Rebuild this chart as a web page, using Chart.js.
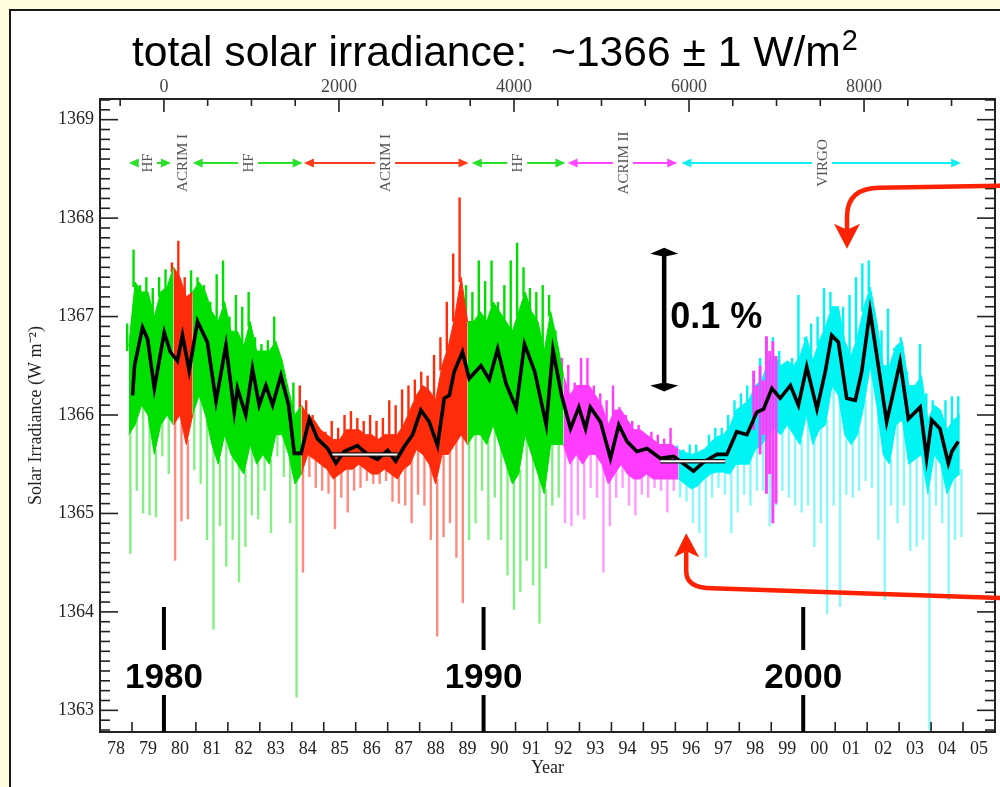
<!DOCTYPE html>
<html>
<head>
<meta charset="utf-8">
<script src="https://cdn.jsdelivr.net/npm/chart.js@4.4.1/dist/chart.umd.min.js"></script>
<style>
  html, body { margin: 0; padding: 0; background: #fffcde; }
  canvas { display: block; }
</style>
</head>
<body>
<canvas id="tsiChart" width="1000" height="787"></canvas>
<script>
// Daily TSI, binned every 0.2 yr (1978.9 ... 2004.9)
const binStart = 1978.9;
const binStep = 0.2;

// outer spikes (extremes of the daily values)
const spikeHigh = [
  1366.93,
  1367.68, 1367.32, 1367.40, 1367.29, 1367.40,
  1367.48, 1367.55, 1367.77, 1367.40, 1367.47,
  1367.40, 1367.32, 1367.15, 1367.43, 1367.57,
  1367.00, 1367.22, 1367.10, 1367.25, 1366.79,
  1366.72, 1366.76, 1367.00, 1366.58, 1366.30,
  1366.33, 1366.30, 1366.15, 1366.00, 1365.87,
  1365.83, 1365.94, 1365.87, 1366.00, 1366.04,
  1365.97, 1365.94, 1366.00, 1365.94, 1365.97,
  1366.15, 1366.10, 1366.26, 1366.30, 1366.36,
  1366.44, 1366.40, 1366.61, 1366.79, 1367.15,
  1367.64, 1368.21, 1367.32, 1367.25, 1367.57,
  1367.36, 1367.57, 1367.15, 1367.32, 1367.57,
  1367.75, 1367.50, 1367.29, 1367.25, 1367.32,
  1367.22, 1366.86, 1366.58, 1366.51, 1366.33,
  1366.58, 1366.58, 1366.30, 1366.22, 1366.15,
  1366.30, 1366.08, 1366.00, 1365.94, 1365.90,
  1365.80, 1365.83, 1365.80, 1365.76, 1365.87,
  1365.69, 1365.65, 1365.70, 1365.70, 1365.65,
  1365.80, 1365.87, 1365.87, 1366.00, 1366.15,
  1366.22, 1366.30, 1366.44, 1366.58, 1366.79,
  1366.79, 1366.65, 1366.44, 1366.58, 1367.22,
  1366.79, 1366.93, 1367.00, 1367.29, 1367.25,
  1366.93, 1367.10, 1367.22, 1367.40, 1367.54,
  1367.57, 1366.93, 1366.86, 1367.08, 1366.68,
  1366.79, 1366.44, 1366.30, 1366.72, 1366.22,
  1366.15, 1366.04, 1366.15, 1366.19, 1366.19
];
const spikeLow = [
  1364.59,
  1365.23, 1365.00, 1364.98, 1364.96, 1365.58,
  1365.40, 1364.52, 1364.92, 1364.94, 1365.44,
  1365.30, 1364.73, 1363.82, 1364.87, 1364.46,
  1364.73, 1364.30, 1364.66, 1364.98, 1364.94,
  1365.23, 1364.80, 1365.58, 1365.37, 1364.90,
  1363.13, 1364.40, 1365.37, 1365.26, 1365.23,
  1365.20, 1364.84, 1365.16, 1365.01, 1365.23,
  1365.26, 1365.33, 1365.30, 1365.30, 1365.33,
  1365.12, 1365.10, 1365.08, 1364.90, 1365.19,
  1365.08, 1364.73, 1363.75, 1364.76, 1364.90,
  1364.55, 1364.09, 1364.73, 1364.90, 1365.23,
  1364.73, 1365.16, 1364.73, 1364.37, 1364.02,
  1364.20, 1364.52, 1364.27, 1363.88, 1364.44,
  1365.08, 1365.16, 1364.90, 1364.87, 1364.98,
  1364.94, 1365.26, 1365.16, 1364.40, 1364.87,
  1365.16, 1365.26, 1365.08, 1364.98, 1365.19,
  1365.16, 1365.26, 1365.23, 1365.01, 1365.23,
  1365.16, 1365.12, 1364.90, 1364.80, 1364.55,
  1365.16, 1365.26, 1365.19, 1364.80, 1365.01,
  1365.19, 1365.08, 1365.23, 1365.23, 1364.87,
  1365.08, 1365.23, 1365.16, 1365.08, 1365.01,
  1365.08, 1364.66, 1364.90, 1363.98, 1365.08,
  1364.05, 1365.19, 1365.16, 1365.23, 1365.33,
  1365.26, 1364.73, 1364.12, 1365.08, 1364.90,
  1365.08, 1364.62, 1364.66, 1364.73, 1362.80,
  1365.08, 1364.90, 1364.12, 1364.73, 1364.76
];
// dense core of the daily values
const coreHigh = [
  1366.70,
  1367.35, 1367.25, 1367.25, 1367.00, 1367.25,
  1367.30, 1367.50, 1367.40, 1367.20, 1367.25,
  1367.35, 1367.25, 1367.05, 1366.95, 1367.15,
  1366.85, 1366.85, 1366.70, 1366.95, 1366.65,
  1366.65, 1366.65, 1366.75, 1366.55, 1366.25,
  1366.00, 1366.10, 1366.00, 1365.95, 1365.85,
  1365.80, 1365.75, 1365.75, 1365.85, 1365.85,
  1365.85, 1365.80, 1365.80, 1365.75, 1365.80,
  1365.80, 1365.80, 1365.90, 1366.05, 1366.20,
  1366.30, 1366.25, 1366.15, 1366.50, 1366.70,
  1367.00, 1367.40, 1366.95, 1366.95, 1367.05,
  1366.95, 1367.15, 1367.05, 1366.95, 1366.85,
  1367.05, 1367.25, 1367.05, 1366.95, 1366.65,
  1367.05, 1366.75, 1366.40, 1366.20, 1366.30,
  1366.30, 1366.30, 1366.20, 1366.10, 1365.90,
  1366.05, 1366.05, 1365.95, 1365.85, 1365.85,
  1365.80, 1365.75, 1365.70, 1365.70, 1365.70,
  1365.65, 1365.62, 1365.60, 1365.62, 1365.65,
  1365.72, 1365.78, 1365.80, 1365.88, 1366.05,
  1366.10, 1366.15, 1366.30, 1366.35, 1366.55,
  1366.60, 1366.50, 1366.55, 1366.50, 1366.60,
  1366.80, 1366.55, 1366.75, 1366.90, 1367.10,
  1367.10, 1366.75, 1366.60, 1366.80, 1367.10,
  1367.30, 1366.95, 1366.50, 1366.50, 1366.70,
  1366.75, 1366.30, 1366.30, 1366.40, 1365.95,
  1366.10, 1366.05, 1365.85, 1365.95, 1366.00
];
const coreLow = [
  1365.80,
  1365.90, 1366.10, 1366.00, 1365.60, 1365.90,
  1366.00, 1365.90, 1366.00, 1365.70, 1366.00,
  1366.20, 1366.00, 1365.70, 1365.50, 1365.80,
  1365.60, 1365.50, 1365.40, 1365.70, 1365.50,
  1365.60, 1365.50, 1365.80, 1365.80, 1365.60,
  1365.30, 1365.40, 1365.60, 1365.55, 1365.50,
  1365.45, 1365.35, 1365.40, 1365.45, 1365.45,
  1365.50, 1365.45, 1365.40, 1365.40, 1365.45,
  1365.40, 1365.35, 1365.45, 1365.50, 1365.65,
  1365.60, 1365.50, 1365.30, 1365.60, 1365.60,
  1365.70, 1365.80, 1365.70, 1365.80, 1365.80,
  1365.70, 1365.90, 1365.70, 1365.50, 1365.30,
  1365.40, 1365.80, 1365.60, 1365.40, 1365.20,
  1365.70, 1365.70, 1365.70, 1365.50, 1365.60,
  1365.50, 1365.60, 1365.60, 1365.50, 1365.30,
  1365.40, 1365.50, 1365.40, 1365.35, 1365.35,
  1365.40, 1365.35, 1365.35, 1365.35, 1365.35,
  1365.35, 1365.30, 1365.25, 1365.28, 1365.35,
  1365.40, 1365.42, 1365.42, 1365.40, 1365.50,
  1365.50, 1365.50, 1365.65, 1365.70, 1365.80,
  1365.85, 1365.80, 1365.90, 1365.80, 1365.70,
  1366.00, 1365.70, 1365.85, 1365.90, 1366.30,
  1366.20, 1365.80, 1365.70, 1365.80, 1366.10,
  1366.50, 1366.10, 1365.60, 1365.50, 1365.90,
  1365.95, 1365.50, 1365.55, 1365.60, 1365.20,
  1365.60, 1365.50, 1365.20, 1365.35, 1365.40
];

// which instrument supplies each stretch of the composite
const sourceNames = ['HF', 'ACRIM I', 'HF', 'ACRIM I', 'HF', 'ACRIM II', 'VIRGO'];
const sourceFrom  = [1978.8, 1980.2, 1980.8, 1984.2, 1989.4, 1992.4, 1996.0];
const sourceTo    = [1980.2, 1980.8, 1984.2, 1989.4, 1992.4, 1996.0, 2005.0];

// ACRIM II values showing through the VIRGO years
const overlapYears = [1998.5, 1998.7, 1998.9, 1999.1];
const overlapHigh  = [1366.45, 1366.50, 1366.80, 1366.75];
const overlapLow   = [1365.85, 1365.60, 1365.20, 1364.90];

// running mean (black curve)
const meanYears = [
  1979.02, 1979.08, 1979.33, 1979.49, 1979.70, 1980.01, 1980.20, 1980.42, 1980.58, 1980.79,
  1981.05, 1981.36, 1981.63, 1981.94, 1982.20, 1982.30, 1982.56, 1982.77, 1982.98, 1983.19,
  1983.40, 1983.66, 1983.90, 1984.08, 1984.29, 1984.55, 1984.80, 1985.12, 1985.38, 1985.64,
  1986.05, 1986.37, 1986.68, 1987.00, 1987.25, 1987.52, 1987.78, 1988.04, 1988.30, 1988.56,
  1988.77, 1988.93, 1989.08, 1989.34, 1989.55, 1989.92, 1990.18, 1990.44, 1990.70, 1991.02,
  1991.28, 1991.60, 1991.96, 1992.17, 1992.44, 1992.72, 1992.98, 1993.19, 1993.34, 1993.66,
  1993.97, 1994.23, 1994.49, 1994.80, 1995.11, 1995.53, 1995.95, 1996.57, 1996.88, 1997.30,
  1997.61, 1997.92, 1998.24, 1998.55, 1998.76, 1999.02, 1999.28, 1999.60, 1999.85, 2000.11,
  2000.43, 2000.69, 2000.89, 2001.10, 2001.36, 2001.63, 2001.83, 2002.09, 2002.35, 2002.61,
  2002.82, 2003.03, 2003.29, 2003.66, 2003.86, 2004.02, 2004.28, 2004.54, 2004.65, 2004.85
];
const meanValues = [
  1366.20, 1366.50, 1366.89, 1366.77, 1366.27, 1366.84, 1366.64, 1366.55, 1366.81, 1366.45,
  1366.95, 1366.74, 1366.14, 1366.71, 1366.03, 1366.27, 1366.00, 1366.47, 1366.10, 1366.30,
  1366.10, 1366.40, 1366.10, 1365.61, 1365.61, 1365.96, 1365.76, 1365.66, 1365.51, 1365.63,
  1365.69, 1365.60, 1365.55, 1365.64, 1365.53, 1365.68, 1365.80, 1366.05, 1365.93, 1365.69,
  1366.17, 1366.20, 1366.44, 1366.64, 1366.37, 1366.50, 1366.36, 1366.67, 1366.32, 1366.07,
  1366.72, 1366.44, 1365.90, 1366.66, 1366.20, 1365.86, 1366.08, 1365.86, 1366.08, 1365.93,
  1365.56, 1365.90, 1365.73, 1365.63, 1365.66, 1365.56, 1365.58, 1365.43, 1365.52, 1365.60,
  1365.60, 1365.83, 1365.80, 1366.03, 1366.06, 1366.27, 1366.17, 1366.30, 1366.10, 1366.49,
  1366.06, 1366.44, 1366.81, 1366.74, 1366.17, 1366.15, 1366.44, 1367.06, 1366.50, 1365.93,
  1366.23, 1366.54, 1365.96, 1366.08, 1365.56, 1365.95, 1365.86, 1365.51, 1365.63, 1365.73
];

// solar-minimum reference levels (white bars)
const minimaFrom  = [1985.27, 1995.53];
const minimaTo    = [1987.30, 1997.56];
const minimaLevel = [1365.60, 1365.53];

// instrument timeline along the top
const timelineNames   = ['HF', 'HF', 'ACRIM I', 'HF', 'ACRIM II', 'VIRGO'];
const timelineFrom    = [1978.90, 1980.90, 1984.38, 1989.63, 1992.63, 1996.19];
const timelineTo      = [1980.22, 1984.34, 1989.53, 1992.56, 1996.06, 2004.94];
const timelineLabelAt = [1979.47, 1982.63, 1986.92, 1991.05, 1994.36, 2000.59];
const timelineLevel = 1368.56;
const loneLabel = 'ACRIM I';
const loneLabelYear = 1980.57;

// axes
const yearTickLabels = ['78', '79', '80', '81', '82', '83', '84', '85', '86', '87', '88', '89', '90', '91',
  '92', '93', '94', '95', '96', '97', '98', '99', '00', '01', '02', '03', '04', '05'];
const yTicks = [1363, 1364, 1365, 1366, 1367, 1368, 1369];
const dayTicks = [0, 2000, 4000, 6000, 8000];
const decadeYears = [1980, 1990, 2000];

// annotations
const scaleBarYear = 1995.65;
const scaleBarHigh = 1367.70;
const scaleBarLow = 1366.24;
const maxArrowYear = 2001.37;
const maxArrowValue = 1367.69;
const minArrowYear = 1996.34;
const minArrowValue = 1364.80;

const serif = "'Liberation Serif', 'Times New Roman', serif";
const sans = "'Liberation Sans', Arial, sans-serif";

const colours = {
  'HF':       { core: '#00e000', spike: '#86ee86', arrow: '#2ae02a' },
  'ACRIM I':  { core: '#ff2c0c', spike: '#ff8a7e', arrow: '#ff3c1e' },
  'ACRIM II': { core: '#ff3cff', spike: '#ff9aff', arrow: '#ff48ff' },
  'VIRGO':    { core: '#00f4f4', spike: '#88f8f8', arrow: '#12eeee' }
};

const round2 = v => Math.round(v * 100) / 100;
const binYears = spikeHigh.map((_, i) => round2(binStart + binStep * i));

function sourceIndex(year) {
  for (let s = 0; s < sourceNames.length; s++) {
    if (year >= sourceFrom[s] && year < sourceTo[s]) return s;
  }
  return -1;
}

const datasets = [];

// spikes: upward (saturated) just left of each bin centre, downward (pale) just right
sourceNames.forEach((name, s) => {
  const idx = binYears.map((yr, i) => i).filter(i => sourceIndex(binYears[i]) === s);
  datasets.push({
    type: 'bar',
    data: idx.map(i => ({ x: round2(binYears[i] - 0.05), y: [coreHigh[i] - 0.05, spikeHigh[i]] })),
    backgroundColor: colours[name].core, grouped: false,
    barPercentage: 0.75, categoryPercentage: 1, order: 20
  });
  datasets.push({
    type: 'bar',
    data: idx.map(i => ({ x: round2(binYears[i] + 0.05), y: [spikeLow[i], coreLow[i] + 0.05] })),
    backgroundColor: colours[name].spike, grouped: false,
    barPercentage: 0.75, categoryPercentage: 1, order: 20
  });
});

// dense core as a filled band per stretch, joined to the next stretch
sourceNames.forEach((name, s) => {
  const idx = binYears.map((yr, i) => i).filter(i => sourceIndex(binYears[i]) === s);
  const last = idx[idx.length - 1];
  if (last + 1 < binYears.length) idx.push(last + 1);
  datasets.push({
    type: 'line', data: idx.map(i => ({ x: binYears[i], y: coreHigh[i] })),
    borderColor: colours[name].core, borderWidth: 1, pointRadius: 0, tension: 0, fill: false, order: 10
  });
  datasets.push({
    type: 'line', data: idx.map(i => ({ x: binYears[i], y: coreLow[i] })),
    borderColor: colours[name].core, borderWidth: 1, pointRadius: 0, tension: 0,
    fill: '-1', backgroundColor: colours[name].core, order: 10
  });
});

// ACRIM II showing through
const overlapPts = [];
overlapYears.forEach((yr, i) => {
  overlapPts.push({ x: round2(yr - 0.05), y: [overlapLow[i], overlapHigh[i]] });
  overlapPts.push({ x: round2(yr + 0.05), y: [overlapLow[i] + 0.2, overlapHigh[i] - 0.15] });
});
datasets.push({
  type: 'bar', data: overlapPts, backgroundColor: colours['ACRIM II'].core, grouped: false,
  barPercentage: 0.9, categoryPercentage: 1, order: 9
});

datasets.push({
  type: 'line',
  data: meanYears.map((yr, i) => ({ x: yr, y: meanValues[i] })),
  borderColor: '#000', borderWidth: 3.6, pointRadius: 0, tension: 0, fill: false, order: 2
});
minimaLevel.forEach((lvl, i) => {
  const pts = [{ x: minimaFrom[i], y: lvl }, { x: minimaTo[i], y: lvl }];
  datasets.push({ type: 'line', data: pts, borderColor: '#111', borderWidth: 4.5, pointRadius: 0, order: 1 });
  datasets.push({ type: 'line', data: pts, borderColor: '#fff', borderWidth: 2, pointRadius: 0, order: 0 });
});

function line(ctx, x0, y0, x1, y1) {
  ctx.beginPath(); ctx.moveTo(x0, y0); ctx.lineTo(x1, y1); ctx.stroke();
}

const decorations = {
  id: 'decorations',
  beforeDraw(chart) {
    const ctx = chart.ctx;
    ctx.save();
    ctx.fillStyle = '#fffcde';
    ctx.fillRect(0, 0, chart.width, chart.height);
    ctx.fillStyle = '#fff';
    ctx.fillRect(10, 10, chart.width, chart.height);
    ctx.strokeStyle = '#1a1a1a';
    ctx.lineWidth = 2;
    ctx.beginPath();
    ctx.moveTo(10, chart.height); ctx.lineTo(10, 10); ctx.lineTo(chart.width, 10);
    ctx.stroke();
    ctx.restore();
  },
  afterDraw(chart) {
    const ctx = chart.ctx;
    const { left, right, top, bottom } = chart.chartArea;
    const xs = chart.scales.x, ys = chart.scales.y, ds = chart.scales.days;
    ctx.save();

    // frame and inward ticks
    ctx.strokeStyle = '#222';
    ctx.lineWidth = 1.6;
    for (let k = Math.ceil(ys.min * 10); k <= Math.floor(ys.max * 10); k++) {
      const py = ys.getPixelForValue(k / 10);
      const len = k % 10 === 0 ? 18 : 10;
      line(ctx, left, py, left + len, py);
      line(ctx, right, py, right - len, py);
    }
    for (let yr = Math.ceil(xs.min); yr <= xs.max; yr++) {
      const px = xs.getPixelForValue(yr);
      line(ctx, px, bottom, px, bottom - 10);
    }
    for (let d = -500; d <= ds.max; d += 500) {
      const px = ds.getPixelForValue(d);
      line(ctx, px, top, px, top + (d % 2000 === 0 ? 13 : 7));
    }
    ctx.lineWidth = 2;
    ctx.strokeRect(left, top, right - left, bottom - top);

    // instrument timeline
    const ty = ys.getPixelForValue(timelineLevel);
    const vlabel = (text, px) => {
      ctx.save();
      ctx.translate(px, ty);
      ctx.rotate(-Math.PI / 2);
      ctx.font = '15px ' + serif;
      ctx.fillStyle = '#555';
      ctx.textAlign = 'center';
      ctx.textBaseline = 'middle';
      ctx.fillText(text, 0, 1);
      ctx.restore();
    };
    const head = (tipX, dir) => {
      ctx.beginPath();
      ctx.moveTo(tipX, ty);
      ctx.lineTo(tipX + dir * 10, ty - 4.5);
      ctx.lineTo(tipX + dir * 10, ty + 4.5);
      ctx.closePath();
      ctx.fill();
    };
    timelineNames.forEach((name, i) => {
      const x0 = xs.getPixelForValue(timelineFrom[i]);
      const x1 = xs.getPixelForValue(timelineTo[i]);
      const xl = xs.getPixelForValue(timelineLabelAt[i]);
      ctx.strokeStyle = colours[name].arrow;
      ctx.fillStyle = colours[name].arrow;
      ctx.lineWidth = 2;
      if (xl - 10 > x0 + 8) line(ctx, x0 + 8, ty, xl - 10, ty);
      if (x1 - 8 > xl + 10) line(ctx, xl + 10, ty, x1 - 8, ty);
      head(x0, 1);
      head(x1, -1);
      vlabel(name, xl);
    });
    vlabel(loneLabel, xs.getPixelForValue(loneLabelYear));

    // decade markers
    ctx.fillStyle = '#000';
    ctx.font = 'bold 35px ' + sans;
    ctx.textAlign = 'center';
    ctx.textBaseline = 'alphabetic';
    decadeYears.forEach(yr => {
      const px = xs.getPixelForValue(yr);
      ctx.fillRect(px - 2, bottom - 125, 4, 43);
      ctx.fillRect(px - 2, bottom - 37, 4, 37);
      ctx.fillText(String(yr), px, bottom - 44);
    });

    // 0.1 % scale bar
    const bx = xs.getPixelForValue(scaleBarYear);
    const bt = ys.getPixelForValue(scaleBarHigh);
    const bb = ys.getPixelForValue(scaleBarLow);
    ctx.strokeStyle = '#000';
    ctx.lineWidth = 4.5;
    line(ctx, bx, bt + 5, bx, bb - 5);
    ctx.beginPath();
    ctx.moveTo(bx, bt); ctx.lineTo(bx + 14, bt + 6); ctx.lineTo(bx, bt + 9); ctx.lineTo(bx - 14, bt + 6);
    ctx.closePath(); ctx.fill();
    ctx.beginPath();
    ctx.moveTo(bx, bb); ctx.lineTo(bx + 14, bb - 6); ctx.lineTo(bx, bb - 9); ctx.lineTo(bx - 14, bb - 6);
    ctx.closePath(); ctx.fill();
    ctx.font = 'bold 36px ' + sans;
    ctx.textAlign = 'left';
    ctx.fillText('0.1 %', bx + 6, bt + 80);

    // title
    ctx.font = '42.6px ' + sans;
    const title = 'total solar irradiance:  ~1366 \u00b1 1 W/m';
    ctx.fillText(title, 132, 66);
    const tw = ctx.measureText(title).width;
    ctx.font = '29px ' + sans;
    ctx.fillText('2', 132 + tw + 1, 50);

    // red pointers to maximum and minimum
    ctx.strokeStyle = '#ff2200';
    ctx.fillStyle = '#ff2200';
    ctx.lineWidth = 4.5;
    ctx.lineCap = 'round';
    const ux = xs.getPixelForValue(maxArrowYear), uy = ys.getPixelForValue(maxArrowValue);
    ctx.beginPath();
    ctx.moveTo(chart.width + 5, uy - 63);
    ctx.lineTo(ux + 33, uy - 61);
    ctx.quadraticCurveTo(ux, uy - 61, ux, uy - 32);
    ctx.lineTo(ux, uy - 20);
    ctx.stroke();
    ctx.beginPath();
    ctx.moveTo(ux, uy); ctx.lineTo(ux - 13, uy - 25); ctx.lineTo(ux, uy - 19); ctx.lineTo(ux + 13, uy - 25);
    ctx.closePath(); ctx.fill();

    const lx = xs.getPixelForValue(minArrowYear), ly = ys.getPixelForValue(minArrowValue);
    ctx.beginPath();
    ctx.moveTo(lx, ly + 20);
    ctx.lineTo(lx, ly + 38);
    ctx.quadraticCurveTo(lx, ly + 55, lx + 26, ly + 55);
    ctx.lineTo(chart.width + 5, ly + 65);
    ctx.stroke();
    ctx.beginPath();
    ctx.moveTo(lx, ly); ctx.lineTo(lx - 12, ly + 24); ctx.lineTo(lx, ly + 18); ctx.lineTo(lx + 13, ly + 24);
    ctx.closePath(); ctx.fill();

    ctx.restore();
  }
};

const tickFont = { family: serif, size: 18 };

new Chart(document.getElementById('tsiChart'), {
  type: 'bar',
  data: { datasets },
  options: {
    responsive: false,
    animation: false,
    devicePixelRatio: 1,
    layout: { padding: { left: 0, right: 5, top: 0, bottom: 0 } },
    plugins: { legend: { display: false }, tooltip: { enabled: false }, title: { display: false } },
    scales: {
      x: {
        type: 'linear', position: 'bottom', min: 1978, max: 2006, offset: false,
        grid: { display: false, drawTicks: false }, border: { display: false },
        afterBuildTicks: s => { s.ticks = yearTickLabels.map((_, i) => ({ value: 1978.5 + i })); },
        ticks: {
          autoSkip: false, maxRotation: 0, padding: 6, color: '#222', font: tickFont,
          callback: (v, i) => yearTickLabels[i]
        },
        title: { display: true, text: 'Year', color: '#222', font: tickFont, padding: { top: 0, bottom: 8 } },
        afterFit: s => { s.height = 55; }
      },
      days: {
        type: 'linear', position: 'top', min: -2 * 365.25, max: 26 * 365.25, offset: false,
        grid: { display: false, drawTicks: false }, border: { display: false },
        afterBuildTicks: s => { s.ticks = dayTicks.map(v => ({ value: v })); },
        ticks: { autoSkip: false, maxRotation: 0, padding: 1, color: '#444', font: tickFont, callback: v => String(v) },
        afterFit: s => { s.height = 99; }
      },
      y: {
        type: 'linear', position: 'left', min: 1362.78, max: 1369.21,
        grid: { display: false, drawTicks: false }, border: { display: false },
        afterBuildTicks: s => { s.ticks = yTicks.map(v => ({ value: v })); },
        ticks: { padding: 6, color: '#222', font: tickFont, callback: v => String(v) },
        title: {
          display: true, text: 'Solar Irradiance (W m\u207b\u00b2)', color: '#222', font: tickFont,
          padding: { top: 25, bottom: 0 }
        },
        afterFit: s => { s.width = 100; }
      }
    }
  },
  plugins: [decorations]
});
</script>
</body>
</html>
